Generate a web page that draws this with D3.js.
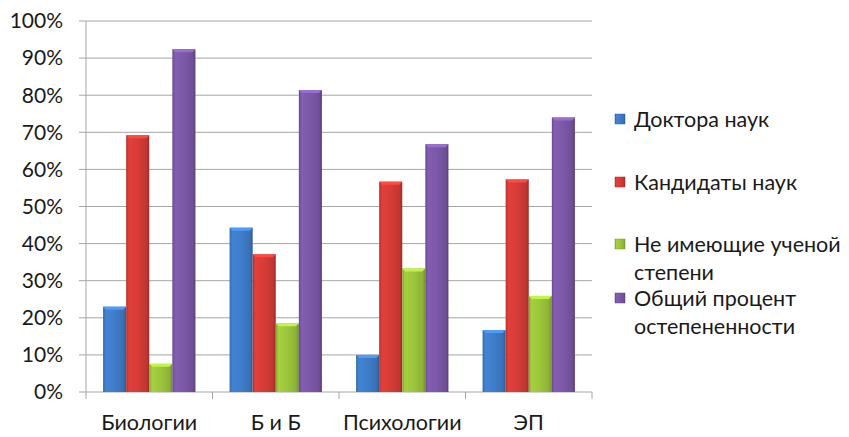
<!DOCTYPE html>
<html>
<head>
<meta charset="utf-8">
<script src="https://cdn.jsdelivr.net/npm/d3@7"></script>
<style>
  body { margin: 0; background: #fff; }
  svg { display: block; font-family: Lato, "Open Sans", "DejaVu Sans", sans-serif; }
</style>
</head>
<body>
<div id="chart"></div>
<script>
// data
const categories = ['Биологии', 'Б и Б', 'Психологии', 'ЭП'];
const seriesNames = ['Доктора наук', 'Кандидаты наук', 'Не имеющие ученой степени', 'Общий процент остепененности'];
const doctors = [23.0, 44.3, 10.0, 16.7];
const candidates = [69.2, 37.1, 56.7, 57.3];
const noDegree = [7.6, 18.5, 33.3, 25.9];
const total = [92.4, 81.4, 66.8, 74.0];
const yTicks = [0, 10, 20, 30, 40, 50, 60, 70, 80, 90, 100];
const legendLines = [['Доктора наук'], ['Кандидаты наук'], ['Не имеющие ученой', 'степени'], ['Общий процент', 'остепененности']];

const seriesValues = [doctors, candidates, noDegree, total];
const colors = ['#3f7dc9', '#d63c37', '#9cc53c', '#7c58a8'];

const width = 849, height = 437;
const margin = { top: 21, left: 86, right: 257, bottom: 45 };
const plotW = width - margin.left - margin.right;
const plotH = height - margin.top - margin.bottom;

const svg = d3.select('#chart').append('svg')
    .attr('width', width)
    .attr('height', height);

// bevel-ish gradients for each series
const defs = svg.append('defs');
colors.forEach((c, i) => {
    const g = defs.append('linearGradient')
        .attr('id', 'grad' + i)
        .attr('x1', '0%').attr('x2', '100%').attr('y1', '0%').attr('y2', '0%');
    const base = d3.color(c);
    g.append('stop').attr('offset', '0%').attr('stop-color', base.darker(0.5));
    g.append('stop').attr('offset', '12%').attr('stop-color', base.brighter(0.15));
    g.append('stop').attr('offset', '50%').attr('stop-color', base);
    g.append('stop').attr('offset', '88%').attr('stop-color', base.darker(0.3));
    g.append('stop').attr('offset', '100%').attr('stop-color', base.darker(0.9));
});

const x = d3.scaleBand()
    .domain(categories)
    .range([margin.left, margin.left + plotW])
    .paddingInner(0.27)
    .paddingOuter(0.135);

const xSub = d3.scaleBand()
    .domain(d3.range(seriesNames.length))
    .range([0, x.bandwidth()]);

const y = d3.scaleLinear()
    .domain([0, 100])
    .range([margin.top + plotH, margin.top]);

// gridlines
svg.append('g')
    .selectAll('line')
    .data(yTicks)
    .enter().append('line')
    .attr('x1', margin.left - 7)
    .attr('x2', margin.left + plotW)
    .attr('y1', d => y(d))
    .attr('y2', d => y(d))
    .attr('stroke', '#a6a6a6')
    .attr('stroke-width', 1);

// y axis line
svg.append('line')
    .attr('x1', margin.left).attr('x2', margin.left)
    .attr('y1', y(100)).attr('y2', y(0))
    .attr('stroke', '#a6a6a6');

// y labels
svg.append('g')
    .selectAll('text')
    .data(yTicks)
    .enter().append('text')
    .attr('x', 63)
    .attr('y', d => y(d))
    .attr('dy', '0.35em')
    .attr('text-anchor', 'end')
    .attr('font-size', 21)
    .attr('fill', '#1a1a1a')
    .text(d => d + '%');

// x axis ticks between categories
const boundaries = d3.range(categories.length + 1).map(i => margin.left + i * (plotW / categories.length));
svg.append('g')
    .selectAll('line')
    .data(boundaries)
    .enter().append('line')
    .attr('x1', d => d).attr('x2', d => d)
    .attr('y1', y(0)).attr('y2', y(0) + 7)
    .attr('stroke', '#a6a6a6');

// bars
const groups = svg.append('g')
    .selectAll('g')
    .data(categories)
    .enter().append('g')
    .attr('transform', d => `translate(${x(d)},0)`);

groups.each(function(cat, ci) {
    const g = d3.select(this);
    seriesValues.forEach((vals, si) => {
        const v = vals[ci];
        const bx = xSub(si), bw = xSub.bandwidth();
        g.append('rect')
            .attr('x', bx)
            .attr('y', y(v))
            .attr('width', bw)
            .attr('height', y(0) - y(v))
            .attr('fill', `url(#grad${si})`);
        // top bevel
        g.append('path')
            .attr('d', `M${bx},${y(v)}L${bx + bw},${y(v)}L${bx + bw - 3},${y(v) + 3}L${bx + 3},${y(v) + 3}Z`)
            .attr('fill', d3.color(colors[si]).brighter(0.6));
    });
});

// category labels
svg.append('g')
    .selectAll('text')
    .data(categories)
    .enter().append('text')
    .attr('x', d => x(d) + x.bandwidth() / 2)
    .attr('y', 430)
    .attr('text-anchor', 'middle')
    .attr('font-size', 21.5)
    .attr('fill', '#1a1a1a')
    .text(d => d);

// legend
const legendY = [127, 190, 252, 306];
const legend = svg.append('g');
seriesNames.forEach((name, i) => {
    legend.append('rect')
        .attr('x', 615)
        .attr('y', legendY[i] - 13)
        .attr('width', 10)
        .attr('height', 10)
        .attr('fill', `url(#grad${i})`)
        .attr('stroke', d3.color(colors[i]).darker(0.6))
        .attr('stroke-width', 0.5);
    legendLines[i].forEach((t, li) => {
        legend.append('text')
            .attr('x', 634)
            .attr('y', legendY[i] + li * 28)
            .attr('font-size', 21.5)
            .attr('fill', '#1a1a1a')
            .text(t);
    });
});
</script>
</body>
</html>
